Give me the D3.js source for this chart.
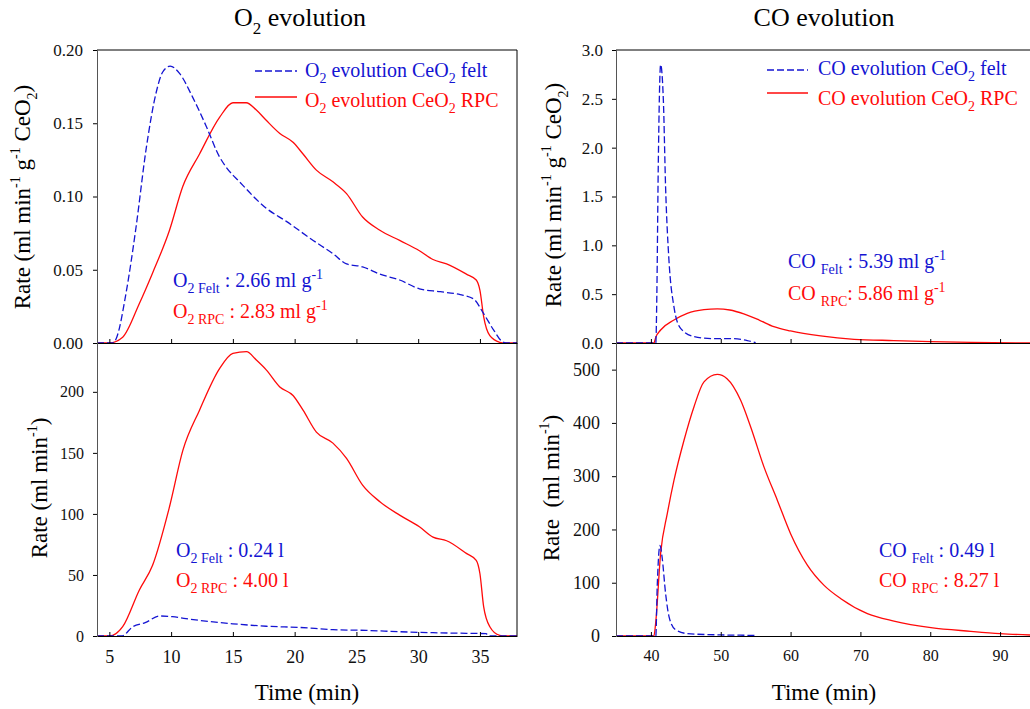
<!DOCTYPE html>
<html>
<head>
<meta charset="utf-8">
<script src="https://cdn.jsdelivr.net/npm/d3@7"></script>
<style>
  body { margin: 0; background: #fff; }
  text { white-space: pre; }
</style>
</head>
<body>
<div id="chart"></div>
<script>
// ---- data (time in min, rate) ----
const o2FeltNorm = [[4,0],[5.3,0],[5.6,0.004],[6.35,0.034],[7.16,0.079],[7.97,0.132],[8.79,0.171],[9.32,0.185],[9.92,0.189],[10.68,0.184],[11.73,0.168],[12.84,0.148],[13.92,0.127],[14.46,0.120],[15.54,0.110],[17.7,0.092],[19.33,0.083],[21.5,0.070],[23.1,0.061],[24.2,0.054],[25.5,0.052],[26.9,0.047],[28.5,0.043],[30.1,0.037],[31.8,0.035],[33.4,0.033],[34.5,0.030],[35.3,0.020],[36.1,0.009],[36.8,0.001],[37.1,0],[38,0]];
const o2RpcNorm = [[4,0],[5,0],[6.08,0.004],[7.43,0.027],[8.51,0.048],[9.87,0.077],[10.95,0.107],[12.3,0.129],[13.92,0.154],[15.0,0.164],[16.08,0.164],[16.9,0.159],[17.7,0.152],[18.8,0.143],[19.87,0.137],[20.68,0.129],[21.76,0.118],[23.1,0.110],[24.2,0.102],[25.5,0.086],[26.9,0.077],[28.5,0.070],[30.1,0.063],[31.2,0.057],[32.3,0.054],[33.9,0.047],[34.7,0.043],[35.0,0.036],[35.3,0.018],[35.8,0.005],[36.6,0.0005],[37,0],[38,0]];
const o2FeltRate = [[4,0],[6.0,0],[6.9,7.6],[7.9,10.9],[9.05,16.4],[10.1,15.8],[11.2,14.2],[12.3,12.8],[15,10],[17.7,8],[20.4,7],[23.1,5.2],[25.8,4.6],[28.5,3.5],[31.2,2.7],[33.9,2.2],[35.5,1.9],[35.7,0],[38,0]];
const o2RpcRate = [[4,0],[5,0],[6.08,7.6],[7.43,37.7],[8.5,58],[9.87,105.9],[10.95,152],[12.3,185],[13.92,219],[15.0,231.5],[16.1,233],[16.9,226],[17.7,218],[18.8,204],[19.87,197],[20.68,185],[21.76,167],[23.1,158],[24.2,145.5],[25.5,123.6],[26.9,110],[28.5,99],[30.1,89.5],[31.2,81],[32.3,78],[33.9,67.7],[34.7,62],[35.0,51],[35.3,24],[35.8,7.6],[36.6,0.5],[37,0],[38,0]];

const coFeltNorm = [[35,0],[40.7,0],[40.85,0.5],[41.05,1.8],[41.39,2.85],[41.78,2.49],[42.1,1.60],[42.58,0.85],[43.3,0.37],[44.25,0.15],[46.2,0.065],[49.0,0.045],[51.4,0.045],[53.8,0.025],[55.0,0.003]];
const coRpcNorm = [[35,0],[40.43,0],[40.7,0.06],[41.39,0.133],[43.3,0.235],[45.2,0.304],[47.6,0.342],[49.5,0.35],[51.3,0.338],[53.3,0.298],[55.5,0.235],[57.6,0.167],[60.0,0.123],[64.3,0.072],[69.1,0.038],[74.8,0.025],[80.1,0.015],[85.8,0.007],[95,0.001]];
const coFeltRate = [[35,0],[40.7,0],[40.9,92],[41.3,170],[41.6,148],[42.1,80],[42.6,36],[43.5,12],[45.2,4.5],[50,2],[54.8,1],[55,0.5]];
const coRpcRate = [[35,0],[40.43,0],[40.67,23],[41.39,155],[42.35,230],[43.3,292],[44.73,367],[46.16,430],[47.6,477],[49.5,491],[50.9,483],[52.85,442.5],[54.3,392],[56.2,317],[58.1,255],[60.0,192],[62.4,133],[64.8,95],[67.2,70],[71.0,42],[74.8,28],[80.1,15.7],[85.8,8.8],[90,4.5],[95,1.5]];

const o2TimeTicks = [5, 10, 15, 20, 25, 30, 35];
const coTimeTicks = [40, 50, 60, 70, 80, 90];
const o2NormTicks = [0, 0.05, 0.10, 0.15, 0.20];
const o2RateTicks = [0, 50, 100, 150, 200];
const coNormTicks = [0, 0.5, 1.0, 1.5, 2.0, 2.5, 3.0];
const coRateTicks = [0, 100, 200, 300, 400, 500];

const FONT = "'Liberation Serif', 'Times New Roman', serif";
const BLUE = "#1414d2";
const RED = "#ff0a0a";

const svg = d3.select("#chart").append("svg")
    .attr("width", 1030)
    .attr("height", 709)
    .style("font-family", FONT);

// text with sub/superscripts, parts = [[str, mode, size]]
function richText(sel, x, y, parts, size, color, anchor) {
    const t = sel.append("text")
        .attr("x", x).attr("y", y)
        .attr("font-family", FONT)
        .attr("font-size", size)
        .attr("fill", color)
        .attr("text-anchor", anchor || "start");
    let shift = 0;
    parts.forEach(([s, mode, small]) => {
        const target = mode === "sub" ? size * 0.32 : mode === "sup" ? -size * 0.42 : 0;
        t.append("tspan")
            .attr("dy", target - shift)
            .attr("font-size", mode ? (small || size * 0.68) : size)
            .text(s);
        shift = target;
    });
    return t;
}

const topBand = [50, 343], bottomBand = [343, 636];

function drawPanel(cfg) {
    const x = d3.scaleLinear().domain(cfg.xDomain).range(cfg.xRange);
    const y = d3.scaleLinear().domain(cfg.yDomain).range([cfg.yRange[1], cfg.yRange[0]]);
    const g = svg.append("g");
    const id = "clip" + cfg.name;
    svg.append("clipPath").attr("id", id).append("rect")
        .attr("x", cfg.xRange[0]).attr("y", cfg.yRange[0])
        .attr("width", cfg.xRange[1] - cfg.xRange[0])
        .attr("height", cfg.yRange[1] - cfg.yRange[0]);

    const line = d3.line().x(d => x(d[0])).y(d => y(d[1])).curve(d3.curveMonotoneX);
    const lines = g.append("g").attr("clip-path", `url(#${id})`);
    lines.append("path").datum(cfg.rpc)
        .attr("d", line).attr("fill", "none")
        .attr("stroke", RED).attr("stroke-width", 1.3);
    lines.append("path").datum(cfg.felt)
        .attr("d", line).attr("fill", "none")
        .attr("stroke", BLUE).attr("stroke-width", 1.3)
        .attr("stroke-dasharray", "7,3");

    // x axis (ticks inside)
    const xa = g.append("g")
        .attr("transform", `translate(0,${cfg.yRange[1]})`)
        .call(d3.axisBottom(x).tickValues(cfg.xTicks).tickSizeInner(-4).tickSizeOuter(0)
            .tickFormat(cfg.showXLabels ? d3.format("d") : ""));
    xa.select(".domain").attr("stroke", "#000");
    xa.selectAll("text").attr("font-size", cfg.xFont).attr("font-family", FONT)
        .attr("fill", "#111").attr("y", 14).attr("dy", "0.71em");

    // y axis (ticks outside)
    const ya = g.append("g")
        .attr("transform", `translate(${cfg.xRange[0]},0)`)
        .call(d3.axisLeft(y).tickValues(cfg.yTicks).tickSizeInner(4).tickSizeOuter(0)
            .tickFormat(d3.format(cfg.yFormat)).tickPadding(cfg.yPad));
    ya.select(".domain").attr("stroke", "#555");
    ya.selectAll("text").attr("font-size", cfg.yFont).attr("font-family", FONT).attr("fill", "#111");

    // frame
    if (cfg.frameTop) {
        g.append("line").attr("x1", cfg.xRange[0]).attr("x2", cfg.xRange[1])
            .attr("y1", cfg.yRange[0]).attr("y2", cfg.yRange[0]).attr("stroke", "#000");
    }
    g.append("line").attr("x1", cfg.xRange[1]).attr("x2", cfg.xRange[1])
        .attr("y1", cfg.yRange[0]).attr("y2", cfg.yRange[1]).attr("stroke", "#000");
    return { x, y, g };
}

// O2 panels
drawPanel({ name: "a", xDomain: [4, 38], xRange: [97, 517], yDomain: [0, 0.2], yRange: topBand,
    rpc: o2RpcNorm, felt: o2FeltNorm, xTicks: o2TimeTicks, yTicks: o2NormTicks,
    yFormat: ".2f", yFont: 17, yPad: 10, xFont: 17, showXLabels: false, frameTop: true });
drawPanel({ name: "b", xDomain: [4, 38], xRange: [97, 517], yDomain: [0, 240], yRange: bottomBand,
    rpc: o2RpcRate, felt: o2FeltRate, xTicks: o2TimeTicks, yTicks: o2RateTicks,
    yFormat: "d", yFont: 16, yPad: 9, xFont: 18, showXLabels: true, frameTop: false });
// CO panels
drawPanel({ name: "c", xDomain: [35, 95], xRange: [616, 1035], yDomain: [0, 3], yRange: topBand,
    rpc: coRpcNorm, felt: coFeltNorm, xTicks: coTimeTicks, yTicks: coNormTicks,
    yFormat: ".1f", yFont: 17, yPad: 9, xFont: 16, showXLabels: false, frameTop: true });
drawPanel({ name: "d", xDomain: [35, 95], xRange: [616, 1035], yDomain: [0, 550], yRange: bottomBand,
    rpc: coRpcRate, felt: coFeltRate, xTicks: coTimeTicks, yTicks: coRateTicks,
    yFormat: "d", yFont: 18, yPad: 12, xFont: 16, showXLabels: true, frameTop: false });

// titles
richText(svg, 300, 26, [["O"], ["2", "sub", 17], [" evolution"]], 26, "#000", "middle");
richText(svg, 824, 26, [["CO evolution"]], 26, "#000", "middle");

// axis titles
richText(svg, 307, 700, [["Time (min)"]], 23, "#000", "middle");
richText(svg, 824, 700, [["Time (min)"]], 23, "#000", "middle");

function yLabel(cx, cy, parts) {
    const g = svg.append("g").attr("transform", `translate(${cx},${cy}) rotate(-90)`);
    richText(g, 0, 0, parts, 23, "#000", "middle");
}
const normLabel = [["Rate (ml min"], ["-1", "sup", 14], [" g"], ["-1", "sup", 14], [" CeO"], ["2", "sub", 14], [")"]];
yLabel(30, 197, normLabel);
yLabel(561, 195, normLabel);
yLabel(47, 488, [["Rate (ml min"], ["-1", "sup", 14], [")"]]);
yLabel(559, 488, [["Rate  (ml min"], ["-1", "sup", 14], [")"]]);

// legends
function legend(x0, x1, tx, rows) {
    rows.forEach(r => {
        svg.append("line").attr("x1", x0).attr("x2", x1).attr("y1", r.ly).attr("y2", r.ly)
            .attr("stroke", r.color).attr("stroke-width", 1.3)
            .attr("stroke-dasharray", r.dash ? "7,3" : null);
        richText(svg, tx, r.ty, r.parts, 20, r.color);
    });
}
legend(255, 297, 305, [
    { ly: 71, ty: 77, color: BLUE, dash: true, parts: [["O"], ["2", "sub", 14], [" evolution CeO"], ["2", "sub", 14], [" felt"]] },
    { ly: 97, ty: 107, color: RED, dash: false, parts: [["O"], ["2", "sub", 14], [" evolution CeO"], ["2", "sub", 14], [" RPC"]] }
]);
legend(767, 808, 818, [
    { ly: 70, ty: 75, color: BLUE, dash: true, parts: [["CO evolution CeO"], ["2", "sub", 14], [" felt"]] },
    { ly: 93, ty: 105, color: RED, dash: false, parts: [["CO evolution CeO"], ["2", "sub", 14], [" RPC"]] }
]);

// totals
richText(svg, 173, 287, [["O"], ["2 Felt", "sub", 14], [" : 2.66 ml g"], ["-1", "sup", 14]], 20, BLUE);
richText(svg, 173, 318, [["O"], ["2 RPC", "sub", 14], [" : 2.83 ml g"], ["-1", "sup", 14]], 20, RED);
richText(svg, 176, 557, [["O"], ["2 Felt", "sub", 14], [" : 0.24 l"]], 20, BLUE);
richText(svg, 176, 587, [["O"], ["2 RPC", "sub", 14], [" : 4.00 l"]], 20, RED);
richText(svg, 788, 268, [["CO "], ["Felt", "sub", 14], [" : 5.39 ml g"], ["-1", "sup", 14]], 20, BLUE);
richText(svg, 788, 300, [["CO "], ["RPC", "sub", 14], [": 5.86 ml g"], ["-1", "sup", 14]], 20, RED);
richText(svg, 879, 557, [["CO "], ["Felt", "sub", 14], [" : 0.49 l"]], 20, BLUE);
richText(svg, 879, 587, [["CO "], ["RPC", "sub", 14], [" : 8.27 l"]], 20, RED);
</script>
</body>
</html>
